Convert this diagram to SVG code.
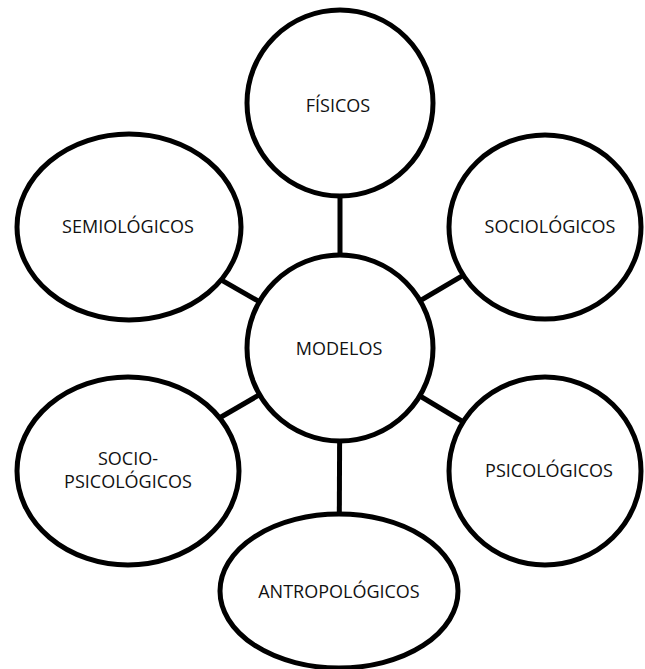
<svg xmlns="http://www.w3.org/2000/svg" width="645" height="669" viewBox="0 0 645 669">
  <style>
    .node { fill: #ffffff; stroke: #000000; stroke-width: 5; }
    .link { stroke: #000000; stroke-width: 5; fill: none; }
    .label { font-family: "Open Sans", "Noto Sans", "Liberation Sans", sans-serif; font-size: 18px; fill: #111111; text-anchor: middle; }
  </style>
  <rect width="645" height="669" fill="#ffffff"/>

  <!-- spokes from the hub to each outer node (drawn first, hidden under node fills) -->
  <g id="connectors">
    <line class="link" x1="340" y1="348" x2="340" y2="103"/>
    <line class="link" x1="340" y1="348" x2="129" y2="227"/>
    <line class="link" x1="340" y1="348" x2="545" y2="227"/>
    <line class="link" x1="340" y1="348" x2="128" y2="471"/>
    <line class="link" x1="340" y1="348" x2="545" y2="471"/>
    <line class="link" x1="340" y1="348" x2="339" y2="591"/>
  </g>

  <g id="fisicos">
    <circle class="node" cx="340" cy="103" r="93"/>
    <text class="label" x="338" y="112">FÍSICOS</text>
  </g>

  <g id="semiologicos">
    <ellipse class="node" cx="129" cy="227" rx="112" ry="93"/>
    <text class="label" x="128" y="233">SEMIOLÓGICOS</text>
  </g>

  <g id="sociologicos">
    <ellipse class="node" cx="545" cy="227" rx="96" ry="92"/>
    <text class="label" x="550" y="233">SOCIOLÓGICOS</text>
  </g>

  <g id="modelos">
    <circle class="node" cx="340" cy="348" r="93"/>
    <text class="label" x="339" y="355">MODELOS</text>
  </g>

  <g id="sociopsicologicos">
    <ellipse class="node" cx="128" cy="471" rx="111" ry="94"/>
    <text class="label" x="128" y="465">SOCIO-</text>
    <text class="label" x="128" y="488">PSICOLÓGICOS</text>
  </g>

  <g id="psicologicos">
    <ellipse class="node" cx="545" cy="471" rx="96" ry="94"/>
    <text class="label" x="549" y="477">PSICOLÓGICOS</text>
  </g>

  <g id="antropologicos">
    <ellipse class="node" cx="339" cy="591" rx="119" ry="77"/>
    <text class="label" x="339" y="598">ANTROPOLÓGICOS</text>
  </g>
</svg>
